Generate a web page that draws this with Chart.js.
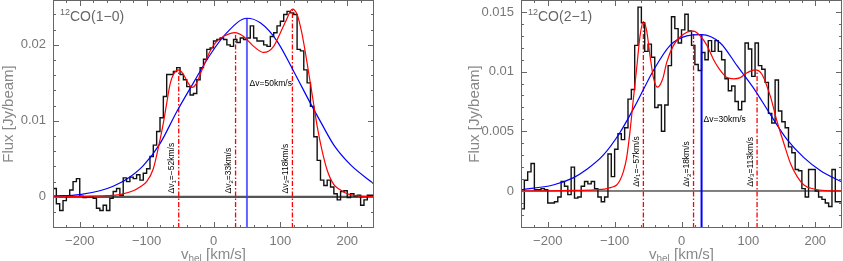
<!DOCTYPE html>
<html>
<head>
<meta charset="utf-8">
<script src="https://cdn.jsdelivr.net/npm/chart.js@4.4.1/dist/chart.umd.min.js"></script>
<style>
    html, body { margin: 0; padding: 0; background: #fff; }
    #wrap { position: relative; width: 843px; height: 261px; overflow: hidden; }
    canvas { position: absolute; top: 0; }
</style>
</head>
<body>
<div id="wrap">
    <canvas id="co10" width="420" height="261" style="left:0px"></canvas>
    <canvas id="co21" width="377" height="261" style="left:466px"></canvas>
</div>
<script>
// channel grid: left edge of first channel and channel width (km/s)
const chanStart = -240;
const chanWidth = 5;

// 12CO(1-0) spectrum, mJy/beam per channel
const flux10 = [
    0.5, 1.1, -0.9, -1.8, -0.5, 0.1, 0.9, 2.0, 2.4, 0.1,
    -0.1, 0.0, 0.0, -0.2, -1.5, -1.8, -1.1, -1.8, -0.2, 0.7,
    1.1, 0.2, 2.5, 2.0, 2.6, 2.4, 2.9, 2.2, 3.1, 3.7,
    5.3, 6.8, 8.6, 10.4, 13.2, 16.1, 16.1, 16.5, 17.0, 16.1,
    15.4, 14.5, 13.4, 13.6, 15.4, 17.0, 18.1, 19.4, 19.6, 20.5,
    20.7, 20.9, 20.7, 20.0, 19.8, 20.7, 20.3, 20.9, 20.7, 20.9,
    22.5, 20.9, 20.5, 20.5, 20.0, 19.8, 21.1, 21.6, 22.5, 23.1,
    24.0, 24.4, 24.2, 24.0, 19.4, 19.2, 16.7, 15.0, 11.9, 7.9,
    4.8, 2.2, 1.5, 2.2, 1.3, 0.4, -0.4, 0.7, 0.8, -0.1,
    0.4, 0.1, 0.2, -1.1, -0.4, 0.2
];

// 12CO(2-1) spectrum, mJy/beam per channel
const flux21 = [
    -2.3, -1.5, 0.9, 1.6, 2.3, 0.1, 0.1, 0.2, 0.1, -1.0,
    -1.0, -0.9, -0.5, 0.8, 0.4, -0.3, 2.0, -0.6, -0.5, 0.4,
    0.8, 0.6, 0.8, 0.2, -0.5, -0.9, -0.5, 3.1, 1.2, 3.5,
    4.8, 4.3, 5.3, 7.7, 8.5, 12.2, 15.4, 14.1, 11.7, 12.3,
    11.2, 7.0, 7.2, 5.0, 7.2, 10.5, 14.6, 13.6, 12.4, 13.5,
    14.8, 13.4, 12.2, 10.6, 10.1, 11.6, 11.0, 12.6, 11.7, 12.6,
    11.7, 11.0, 9.4, 8.4, 8.8, 7.5, 6.8, 7.5, 12.4, 11.9,
    9.6, 12.4, 10.5, 10.2, 9.1, 6.5, 5.7, 9.3, 6.7, 5.8,
    5.3, 3.7, 3.2, 1.8, 1.7, 0.2, -0.5, 1.8, 1.8, 0.0,
    -0.5, -0.7, -1.0, -1.3, 1.8, -0.9
];

// fitted curves (km/s, mJy/beam)
const red10V = [-240, -200, -160, -140, -120, -110, -100, -90, -80, -75, -70, -65, -60, -52, -45, -38, -32, -25, -20, -12, -5, 5, 17, 32, 45, 60, 75, 90, 100, 108, 118, 125, 132, 140, 148, 155, 162, 170, 180, 190, 200, 220, 240];
const red10F = [0.0, 0.05, 0.15, 0.3, 0.8, 1.3, 2.0, 3.7, 7.5, 9.7, 12.3, 14.8, 16.1, 16.7, 16.1, 15.0, 14.4, 15.0, 16.1, 17.8, 19.2, 20.5, 21.2, 21.6, 21.1, 19.8, 19.0, 19.8, 21.6, 23.1, 24.7, 24.0, 21.6, 17.6, 13.2, 9.3, 6.2, 3.5, 1.6, 0.9, 0.4, 0.1, 0.0];
const blue10V = [-240, -200, -170, -150, -130, -105, -80, -55, -30, -5, 20, 50, 70, 95, 120, 145, 160, 180, 205, 240];
const blue10F = [0.1, 0.3, 0.8, 1.4, 2.3, 4.1, 7.0, 11.2, 15.0, 18.7, 21.6, 23.5, 22.9, 20.5, 16.5, 12.3, 9.9, 6.8, 4.2, 1.7];

const red21V = [-240, -200, -160, -130, -115, -105, -97, -92, -87, -82, -77, -72, -67, -62, -57, -52, -47, -42, -36, -28, -22, -12, -2, 8, 18, 28, 38, 48, 58, 68, 78, 88, 98, 110, 120, 133, 143, 153, 163, 173, 183, 198, 215, 240];
const red21F = [0, 0.01, 0.05, 0.1, 0.15, 0.3, 0.5, 0.9, 1.6, 2.8, 5.0, 7.7, 10.3, 13.0, 14.2, 13.4, 11.3, 9.5, 8.7, 9.4, 10.8, 12.2, 12.9, 13.3, 13.4, 13.0, 12.2, 11.0, 10.1, 9.5, 9.4, 9.5, 9.9, 10.15, 9.8, 7.9, 5.8, 4.0, 2.3, 1.2, 0.5, 0.17, 0.03, 0];
const blue21V = [-240, -192, -162, -142, -117, -92, -67, -42, -17, 8, 30, 58, 83, 108, 133, 158, 183, 208, 240];
const blue21F = [0.1, 0.5, 1.1, 1.8, 3.0, 4.9, 7.4, 10.1, 12.2, 13.0, 13.1, 12.4, 10.5, 8.6, 6.4, 4.3, 2.8, 1.7, 0.75];

// component velocities and the heights their markers reach (mJy/beam)
const comp10 = [-52, 33, 118];
const comp10Top = [16.7, 21.3, 24.6];
const cen10 = 50, cen10Top = 23.5;
const comp21 = [-57, 18, 113];
const comp21Top = [14.2, 13.4, 10.1];
const cen21 = 30, cen21Top = 13.1;

// axis ticks
const xTickVals = [-200, -100, 0, 100, 200];
const xTickText = ['\u2212200', '\u2212100', '0', '100', '200'];
const yTickVals10 = [0, 0.01, 0.02];
const yTickText10 = ['0', '0.01', '0.02'];
const yTickVals21 = [0, 0.005, 0.01, 0.015];
const yTickText21 = ['0', '0.005', '0.01', '0.015'];

const FAM = '"Liberation Sans", Arial, sans-serif';

function fmtV(v) {
    return (v < 0 ? '\u2212' : '') + Math.abs(v);
}

// draw a run of text pieces [text, size, dy]
function drawParts(ctx, parts, x, y) {
    let cx = x;
    parts.forEach(p => {
        ctx.font = p[1] + 'px ' + FAM;
        ctx.fillText(p[0], cx, y + p[2]);
        cx += ctx.measureText(p[0]).width;
    });
    return cx - x;
}

function partsWidth(ctx, parts) {
    let w = 0;
    parts.forEach(p => {
        ctx.font = p[1] + 'px ' + FAM;
        w += ctx.measureText(p[0]).width;
    });
    return w;
}

function makePanel(id, o) {
    const toJy = f => f / 1000;
    const hist = o.flux.map((f, i) => ({ x: chanStart + i * chanWidth, y: toJy(f) }));
    hist.push({ x: chanStart + o.flux.length * chanWidth, y: toJy(o.flux[o.flux.length - 1]) });
    const curve = (vs, fs) => vs.map((v, i) => ({ x: v, y: toJy(fs[i]) }));
    const vline = (v, top) => [{ x: v, y: o.yMin }, { x: v, y: toJy(top) }];

    const datasets = [
        { data: [{ x: -240, y: 0 }, { x: 240, y: 0 }], borderColor: o.zeroColor, borderWidth: o.zeroWidth, order: 9 },
        { data: hist, stepped: 'after', borderColor: '#111', borderWidth: 1.4, order: 5 },
        { data: curve(o.blueV, o.blueF), borderColor: '#0000ff', borderWidth: 1.2, cubicInterpolationMode: 'monotone', order: 2 },
        { data: curve(o.redV, o.redF), borderColor: '#ff0000', borderWidth: 1.2, cubicInterpolationMode: 'monotone', order: 1 },
        { data: vline(o.cen, o.cenTop), borderColor: o.cenColor, borderWidth: 2, order: 3 },
    ];
    o.comp.forEach((v, i) => {
        datasets.push({ data: vline(v, o.compTop[i]), borderColor: '#ff0000', borderWidth: 1.3, borderDash: [5, 2, 1.5, 2], order: 4 });
    });

    const framePlugin = {
        id: 'frame',
        afterDatasetsDraw(chart) {
            const { ctx, chartArea: a } = chart;
            const x = chart.scales.x, y = chart.scales.y;
            ctx.save();
            ctx.strokeStyle = '#666';
            ctx.lineWidth = 1;
            ctx.strokeRect(a.left + 0.5, a.top + 0.5, a.right - a.left - 1, a.bottom - a.top - 1);

            ctx.beginPath();
            // x ticks, bottom and top
            for (let v = -240 + 20; v < 240; v += 20) {
                const px = Math.round(x.getPixelForValue(v)) + 0.5;
                const len = xTickVals.includes(v) ? 6 : 3;
                ctx.moveTo(px, a.bottom); ctx.lineTo(px, a.bottom - len);
                ctx.moveTo(px, a.top); ctx.lineTo(px, a.top + len);
            }
            // y ticks, left and right
            for (let k = 1; ; k++) {
                const v = o.yMinorStart + k * o.yMinorStep;
                if (v >= o.yMax) break;
                const py = Math.round(y.getPixelForValue(v)) + 0.5;
                const major = o.yTicks.some(t => Math.abs(t - v) < 1e-9);
                const len = major ? 6 : 3;
                ctx.moveTo(a.left, py); ctx.lineTo(a.left + len, py);
                ctx.moveTo(a.right, py); ctx.lineTo(a.right - len, py);
            }
            ctx.stroke();

            // line label
            ctx.fillStyle = '#666';
            ctx.textBaseline = 'alphabetic';
            drawParts(ctx, [['12', 9, -6], [o.lineName, 14, 0]], a.left + 7, 21);

            // x axis title with subscript
            ctx.fillStyle = '#888';
            const tparts = [['v', 15, 0], ['hel', 10, 3], [' [km/s]', 15, 0]];
            const tw = partsWidth(ctx, tparts);
            drawParts(ctx, tparts, (a.left + a.right) / 2 - tw / 2, 259);

            // component labels, rotated
            ctx.fillStyle = '#000';
            ctx.textBaseline = 'middle';
            o.comp.forEach((v, i) => {
                const px = x.getPixelForValue(v + o.labelDx);
                const py = y.getPixelForValue(o.labelY / 1000);
                ctx.save();
                ctx.translate(px, py);
                ctx.rotate(-Math.PI / 2);
                drawParts(ctx, [['\u0394v', 8.5, 0], [String(i + 1), 6, 2], ['=' + fmtV(v) + 'km/s', 8.5, 0]], 0, 0);
                ctx.restore();
            });
            drawParts(ctx, [['\u0394v=' + fmtV(o.cen) + 'km/s', 8.5, 0]],
                x.getPixelForValue(o.cen + o.cenDx), y.getPixelForValue(o.cenLabelY / 1000));
            ctx.restore();
        }
    };

    return new Chart(document.getElementById(id), {
        type: 'line',
        data: { datasets },
        plugins: [framePlugin],
        options: {
            responsive: false,
            animation: false,
            events: [],
            elements: { point: { radius: 0 }, line: { fill: false } },
            layout: { padding: { top: 0, left: 0, bottom: 0, right: o.padRight } },
            plugins: { legend: { display: false }, tooltip: { enabled: false } },
            scales: {
                x: {
                    type: 'linear', min: -240, max: 240,
                    grid: { display: false, drawTicks: false },
                    border: { display: false },
                    afterBuildTicks: s => { s.ticks = xTickVals.map(v => ({ value: v })); },
                    afterFit: s => { s.height = 33; s.paddingLeft = 0; s.paddingRight = 0; },
                    ticks: {
                        padding: 6, color: '#777', maxRotation: 0, autoSkip: false,
                        font: { family: FAM, size: 13 },
                        callback: (v, i) => xTickText[i],
                    },
                },
                y: {
                    type: 'linear', min: o.yMin, max: o.yMax,
                    grid: { display: false, drawTicks: false },
                    border: { display: false },
                    afterBuildTicks: s => { s.ticks = o.yTicks.map(v => ({ value: v })); },
                    afterFit: s => { s.width = o.yWidth; s.paddingTop = 0; s.paddingBottom = 0; },
                    ticks: {
                        padding: 7, color: '#777', autoSkip: false,
                        font: { family: FAM, size: 13 },
                        callback: (v, i) => o.yText[i],
                    },
                    title: {
                        display: true, text: 'Flux [Jy/beam]', color: '#888', padding: 0,
                        font: { family: FAM, size: 15 },
                    },
                },
            },
        },
    });
}

makePanel('co10', {
    flux: flux10, redV: red10V, redF: red10F, blueV: blue10V, blueF: blue10F,
    comp: comp10, compTop: comp10Top, cen: cen10, cenTop: cen10Top,
    yMin: -0.0041, yMax: 0.0259, yTicks: yTickVals10, yText: yTickText10,
    yMinorStart: -0.004, yMinorStep: 0.002,
    yWidth: 53, padRight: 46, lineName: 'CO(1\u22120)',
    zeroColor: '#555', zeroWidth: 2.2, cenColor: 'rgba(60,60,255,0.8)',
    labelDx: -10, labelY: 0.45, cenDx: 4, cenLabelY: 14.9,
});

makePanel('co21', {
    flux: flux21, redV: red21V, redF: red21F, blueV: blue21V, blueF: blue21F,
    comp: comp21, compTop: comp21Top, cen: cen21, cenTop: cen21Top,
    yMin: -0.0031, yMax: 0.016, yTicks: yTickVals21, yText: yTickText21,
    yMinorStart: -0.003, yMinorStep: 0.001,
    yWidth: 55, padRight: 1, lineName: 'CO(2\u22121)',
    zeroColor: '#000', zeroWidth: 1, cenColor: '#0000ff',
    labelDx: -10, labelY: 0.35, cenDx: 3, cenLabelY: 6.0,
});
</script>
</body>
</html>
